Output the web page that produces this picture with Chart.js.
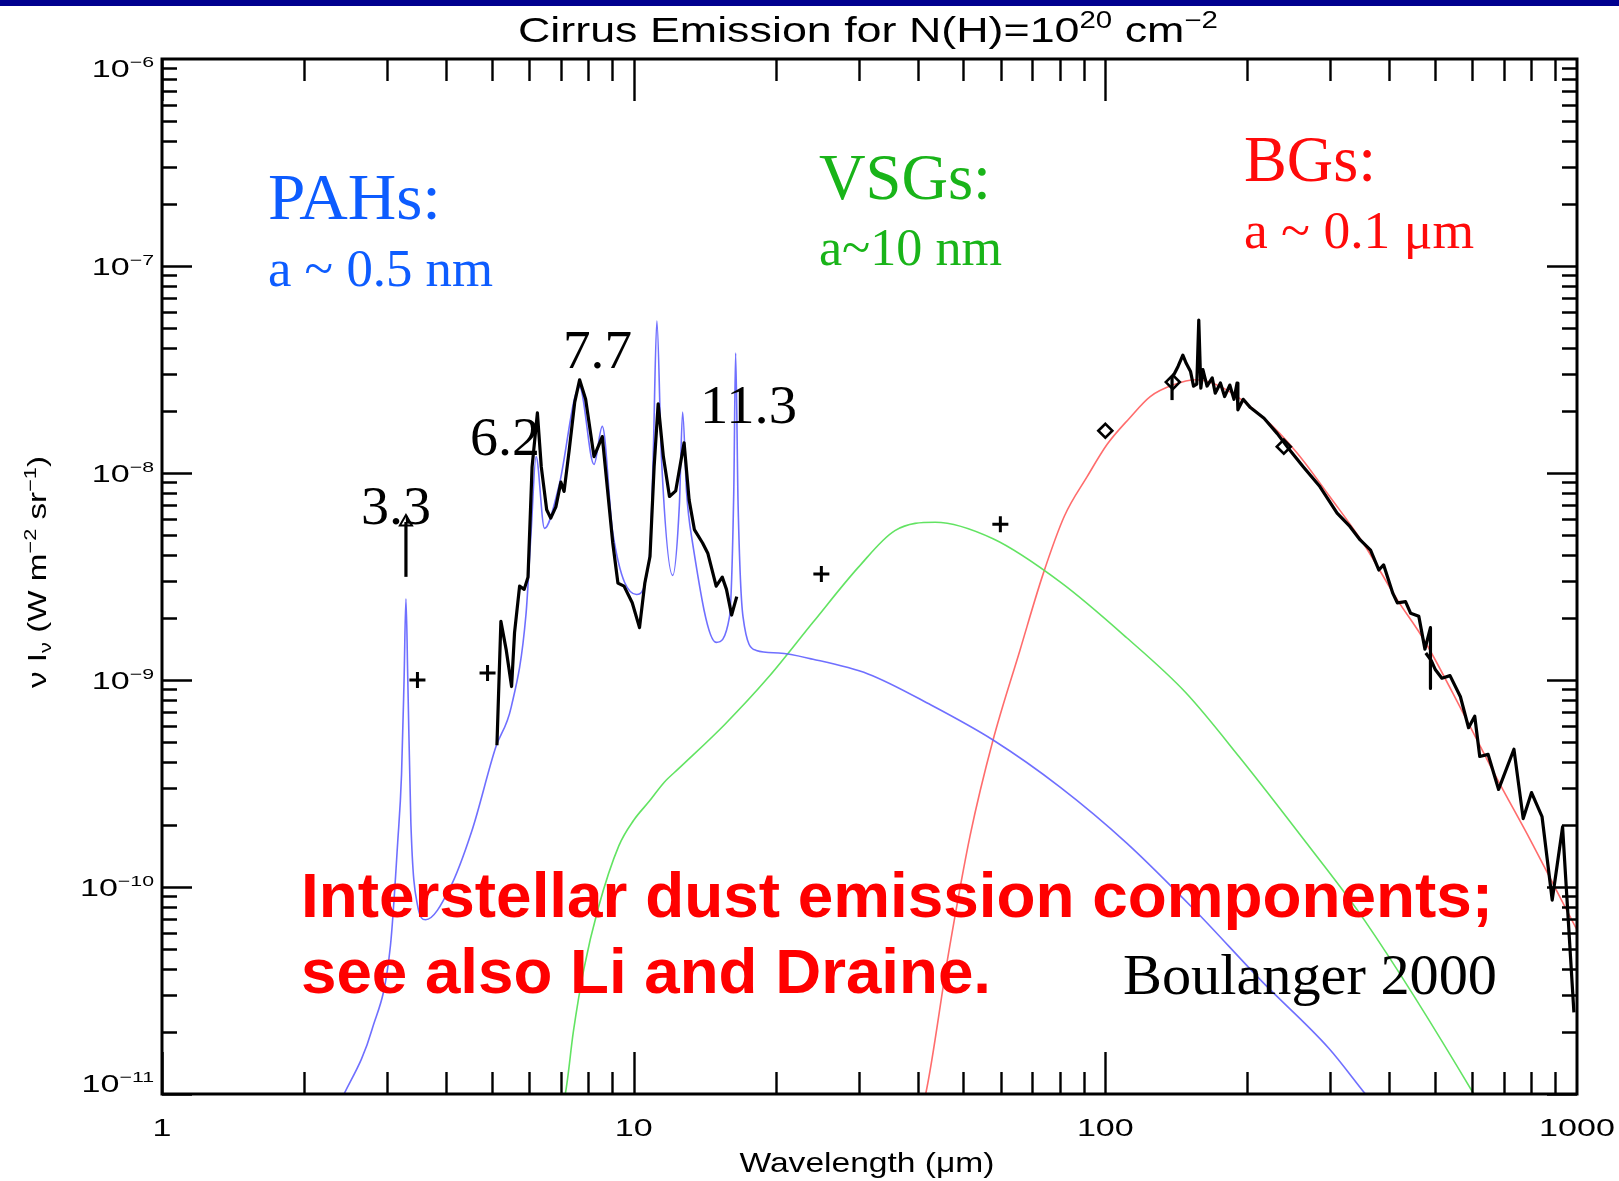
<!DOCTYPE html>
<html>
<head>
<meta charset="utf-8">
<script src="https://cdn.jsdelivr.net/npm/chart.js@4.4.1/dist/chart.umd.min.js"></script>
<style>
  html, body { margin: 0; padding: 0; background: #fff; }
  #chart { display: block; }
</style>
</head>
<body>
<canvas id="chart" width="1619" height="1181"></canvas>
<script>
// wavelength in micron, nu I_nu in W m-2 sr-1

// PAH model (blue)
const pahWave = [2.38, 2.79, 3.05, 3.16, 3.22, 3.26, 3.29, 3.32, 3.37, 3.48, 3.62, 4.07, 4.54, 5.10, 5.50, 5.91, 6.06, 6.21, 6.47, 6.94, 7.68, 8.24, 8.58, 9.03, 10.14, 10.82, 11.0, 11.2, 11.45, 12.1, 12.5, 12.7, 12.95, 13.3, 14.96, 15.97, 16.3, 16.45, 16.65, 17.05, 18.2, 20.3, 24.0, 31.4, 42.7, 57.8, 80.3, 111, 155, 215, 298, 356, 370];
const pahFlux = [9e-12, 2.06e-11, 5.2e-11, 1.64e-10, 3.5e-10, 1.0e-9, 2.47e-9, 1.0e-9, 2.05e-10, 8.2e-11, 6.95e-11, 9.8e-11, 1.87e-10, 4.73e-10, 7.4e-10, 2.06e-9, 5.15e-9, 1.2e-8, 5.4e-9, 8.6e-9, 2.6e-8, 1.1e-8, 1.68e-8, 5.15e-9, 2.59e-9, 4.1e-9, 1.2e-8, 5.42e-8, 1.2e-8, 3.2e-9, 7e-9, 1.97e-8, 8e-9, 4.75e-9, 1.52e-9, 2.03e-9, 8e-9, 3.8e-8, 7e-9, 2.03e-9, 1.39e-9, 1.35e-9, 1.26e-9, 1.07e-9, 7.57e-10, 5.13e-10, 3.03e-10, 1.63e-10, 7.7e-11, 3.49e-11, 1.66e-11, 1.0e-11, 9e-12];

// VSG model (green)
const vsgWave = [7.0, 7.16, 7.45, 7.84, 8.41, 9.30, 10.0, 10.8, 11.6, 12.5, 15.6, 19.3, 24.0, 30.0, 35.8, 43.6, 57.8, 80.3, 111, 148, 192, 267, 356, 604, 620];
const vsgFlux = [9e-12, 1e-11, 2e-11, 4e-11, 7.9e-11, 1.58e-10, 2.1e-10, 2.6e-10, 3.2e-10, 3.76e-10, 6.1e-10, 1.03e-9, 1.9e-9, 3.52e-9, 5.27e-9, 5.78e-9, 4.81e-9, 2.97e-9, 1.6e-9, 8.7e-10, 4.27e-10, 1.63e-10, 6.8e-11, 1e-11, 9e-12];

// BG model (red)
const bgWave = [41, 41.6, 46.5, 51.7, 57.8, 65.9, 73.7, 81.9, 91.5, 101, 112.5, 124.5, 139, 156, 178, 217, 255, 299, 352, 416, 474, 574, 678, 797, 891, 1000];
const bgFlux = [9e-12, 1e-11, 4.77e-11, 1.78e-10, 5.13e-10, 1.39e-9, 3.22e-9, 6.2e-9, 9.6e-9, 1.38e-8, 1.84e-8, 2.34e-8, 2.66e-8, 2.82e-8, 2.57e-8, 1.84e-8, 1.25e-8, 7.7e-9, 4.59e-9, 2.44e-9, 1.56e-9, 6.9e-10, 3.31e-10, 1.68e-10, 1.03e-10, 6.2e-11];

// ISOCAM CVF spectrum (black)
const cvfWave = [5.13, 5.23, 5.37, 5.51, 5.59, 5.73, 5.86, 5.97, 6.09, 6.25, 6.37, 6.54, 6.67, 6.84, 7.01, 7.12, 7.30, 7.5, 7.68, 7.91, 8.24, 8.58, 9.03, 9.26, 9.54, 9.93, 10.29, 10.56, 10.83, 11.05, 11.27, 11.56, 11.91, 12.28, 12.79, 13.11, 13.45, 14.0, 14.36, 14.96, 15.41, 15.73, 16.13, 16.54];
const cvfFlux = [4.84e-10, 1.92e-9, 1.39e-9, 9.3e-10, 1.69e-9, 2.84e-9, 2.74e-9, 3.14e-9, 1.07e-8, 1.95e-8, 1.07e-8, 6.64e-9, 6.05e-9, 6.86e-9, 9.03e-9, 8.15e-9, 1.29e-8, 2.2e-8, 2.82e-8, 2.27e-8, 1.2e-8, 1.5e-8, 4.59e-9, 2.94e-9, 2.84e-9, 2.36e-9, 1.79e-9, 2.94e-9, 3.95e-9, 1.07e-8, 2.16e-8, 1.2e-8, 7.7e-9, 8.2e-9, 1.4e-8, 7.4e-9, 5.33e-9, 4.59e-9, 4.1e-9, 2.84e-9, 3.14e-9, 2.74e-9, 2.06e-9, 2.53e-9];

// FIRAS spectrum, two pieces (black)
const firasWave1 = [139, 142.6, 146, 148.5, 151.6, 153.8, 156.3, 157.8, 159.4, 161, 164.3, 168.5, 171, 175.4, 179, 183.6, 187.4, 190.2, 191, 196, 203, 217, 231.5, 246, 263, 285, 310, 330, 347, 365, 380, 389, 407, 416, 433, 444, 462, 476, 489, 489];
const firasFlux1 = [2.92e-8, 3.27e-8, 3.71e-8, 3.38e-8, 3.09e-8, 2.63e-8, 2.69e-8, 5.48e-8, 2.57e-8, 3.16e-8, 2.63e-8, 2.88e-8, 2.43e-8, 2.72e-8, 2.34e-8, 2.66e-8, 2.27e-8, 2.72e-8, 2.02e-8, 2.27e-8, 2.07e-8, 1.84e-8, 1.55e-8, 1.29e-8, 1.07e-8, 8.6e-9, 6.4e-9, 5.52e-9, 4.75e-9, 4.24e-9, 3.4e-9, 3.6e-9, 2.62e-9, 2.36e-9, 2.39e-9, 2.1e-9, 2.03e-9, 1.41e-9, 1.79e-9, 9.1e-10];
const firasWave2 = [478, 491, 501, 517, 538, 566, 589, 607, 622, 648, 682, 735, 769, 801, 843, 886, 932, 985];
const firasFlux2 = [1.35e-9, 1.24e-9, 1.12e-9, 1.02e-9, 1.05e-9, 8.3e-10, 5.88e-10, 6.68e-10, 4.27e-10, 4.37e-10, 2.96e-10, 4.63e-10, 2.14e-10, 2.86e-10, 2.19e-10, 8.65e-11, 1.95e-10, 2.48e-11];

// 3.3 micron feature (black bar with triangle on top)
const band33Wave = [3.29, 3.29];
const band33Flux = [3.15e-9, 5.8e-9];

// DIRBE photometry (+) and diamonds
const crossWave = [3.48, 4.90, 25.0, 59.9];
const crossFlux = [1.0e-9, 1.08e-9, 3.25e-9, 5.65e-9];
const diamondWave = [100, 139, 239];
const diamondFlux = [1.6e-8, 2.75e-8, 1.34e-8];
const diamondErrWave = [138.5, 138.5];
const diamondErrFlux = [2.25e-8, 2.92e-8];

// axes
const xTicks = [1, 10, 100, 1000];
const xTickLabels = ["1", "10", "100", "1000"];
const yTicks = [1e-6, 1e-7, 1e-8, 1e-9, 1e-10, 1e-11];
const yTickExp = ["\u22126", "\u22127", "\u22128", "\u22129", "\u221210", "\u221211"];

const toPoints = (xs, ys) => xs.map((x, i) => ({ x, y: ys[i] }));

const blue = "#0d5cff";
const green = "#19b419";
const red = "#ff0a0a";
const sans = "'Liberation Sans', Arial, sans-serif";
const serif = "'Liberation Serif', 'Times New Roman', serif";

// draw a row of text pieces (superscripts etc.), optionally stretched to a width
function drawRich(ctx, parts, x, y, opts) {
  const family = opts.family || sans;
  let w = 0;
  parts.forEach((p) => {
    ctx.font = `${p.weight || "normal"} ${p.size}px ${family}`;
    p.w = ctx.measureText(p.t).width;
    w += p.w;
  });
  const sx = opts.width ? opts.width / w : opts.sx || 1;
  let start = 0;
  if (opts.align === "center") start = -w / 2;
  if (opts.align === "right") start = -w;
  ctx.save();
  ctx.translate(x, y);
  ctx.scale(sx, 1);
  ctx.fillStyle = opts.color || "#000";
  ctx.textAlign = "left";
  ctx.textBaseline = "alphabetic";
  let cx = start;
  parts.forEach((p) => {
    ctx.font = `${p.weight || "normal"} ${p.size}px ${family}`;
    ctx.fillText(p.t, cx, p.dy || 0);
    cx += p.w;
  });
  ctx.restore();
}

const notes = [
  { t: "PAHs:", x: 268, y: 219, w: 173, size: 66, color: blue },
  { t: "a ~ 0.5 nm", x: 268, y: 286, w: 225, size: 53, color: blue },
  { t: "VSGs:", x: 819, y: 199, w: 172, size: 65, color: green },
  { t: "a~10 nm", x: 819, y: 265, w: 183, size: 52, color: green },
  { t: "BGs:", x: 1244, y: 181, w: 132, size: 65, color: red },
  { t: "a ~ 0.1 \u03bcm", x: 1244, y: 248, w: 230, size: 53, color: red },
  { t: "3.3", x: 361, y: 524, w: 70, size: 55, color: "#000" },
  { t: "6.2", x: 470, y: 455, w: 70, size: 55, color: "#000" },
  { t: "7.7", x: 563, y: 368, w: 69, size: 55, color: "#000" },
  { t: "11.3", x: 700, y: 423, w: 97, size: 55, color: "#000" },
  { t: "Boulanger 2000", x: 1123, y: 994, w: 374, size: 57, color: "#000" },
];

const framePlugin = {
  id: "frame",
  beforeDraw(chart) {
    const ctx = chart.ctx;
    ctx.save();
    ctx.fillStyle = "#fff";
    ctx.fillRect(0, 0, chart.width, chart.height);
    ctx.fillStyle = "#00008f";
    ctx.fillRect(0, 0, chart.width, 6);
    ctx.restore();
  },
  afterDatasetsDraw(chart) {
    const { ctx, chartArea: a } = chart;
    const xs = chart.scales.x;
    const ys = chart.scales.y;
    ctx.save();
    ctx.strokeStyle = "#000";
    ctx.lineWidth = 2.4;
    ctx.beginPath();
    // x ticks, bottom and top
    for (let d = 1; d < 1000; d *= 10) {
      for (let m = 1; m <= 9; m++) {
        const px = Math.round(xs.getPixelForValue(d * m)) + 0.5;
        const len = m === 1 ? 42 : 22;
        ctx.moveTo(px, a.bottom);
        ctx.lineTo(px, a.bottom - len);
        ctx.moveTo(px, a.top);
        ctx.lineTo(px, a.top + len);
      }
    }
    // y ticks, left and right
    for (let d = 1e-11; d < 0.9e-6; d *= 10) {
      for (let m = 1; m <= 9; m++) {
        const py = Math.round(ys.getPixelForValue(d * m)) + 0.5;
        const len = m === 1 ? 30 : 15;
        ctx.moveTo(a.left, py);
        ctx.lineTo(a.left + len, py);
        ctx.moveTo(a.right, py);
        ctx.lineTo(a.right - len, py);
      }
    }
    ctx.stroke();
    ctx.lineWidth = 3;
    ctx.strokeRect(a.left, a.top, a.right - a.left, a.bottom - a.top);
    ctx.restore();
  },
  afterDraw(chart) {
    const { ctx, chartArea: a } = chart;
    const xs = chart.scales.x;
    const ys = chart.scales.y;

    // tick labels
    yTicks.forEach((v, i) => {
      const py = ys.getPixelForValue(v);
      let base = py + 8.5;
      if (i === 0) base = py + 18;
      if (i === yTicks.length - 1) base = py - 2;
      drawRich(ctx, [
        { t: "10", size: 24 },
        { t: yTickExp[i], size: 15, dy: -10 },
      ], a.left - 8, base, { align: "right", sx: 1.42 });
    });
    xTicks.forEach((v, i) => {
      const px = xs.getPixelForValue(v);
      drawRich(ctx, [{ t: xTickLabels[i], size: 24 }], px, 1136, { align: "center", sx: 1.42 });
    });

    // title and axis titles
    drawRich(ctx, [
      { t: "Cirrus Emission for N(H)=10", size: 35 },
      { t: "20", size: 23, dy: -14 },
      { t: " cm", size: 35 },
      { t: "\u22122", size: 23, dy: -14 },
    ], 868, 42, { align: "center", width: 700 });
    drawRich(ctx, [{ t: "Wavelength (\u03bcm)", size: 28 }], 867, 1172, { align: "center", width: 255 });
    ctx.save();
    ctx.translate(46, 572);
    ctx.rotate(-Math.PI / 2);
    drawRich(ctx, [
      { t: "\u03bd I", size: 26 },
      { t: "\u03bd", size: 17, dy: 5 },
      { t: " (W m", size: 26 },
      { t: "\u22122", size: 17, dy: -10 },
      { t: " sr", size: 26 },
      { t: "\u22121", size: 17, dy: -10 },
      { t: ")", size: 26 },
    ], 0, 0, { align: "center", width: 232 });
    ctx.restore();

    // annotations
    notes.forEach((n) => {
      drawRich(ctx, [{ t: n.t, size: n.size }], n.x, n.y, { family: serif, color: n.color, width: n.w });
    });
    drawRich(ctx, [{ t: "Interstellar dust emission components;", size: 63, weight: "bold" }], 301, 917, { color: "#ff0000", width: 1192 });
    drawRich(ctx, [{ t: "see also Li and Draine.", size: 63, weight: "bold" }], 301, 993, { color: "#ff0000", width: 690 });
  },
};

const modelLine = (data, color) => ({
  data,
  borderColor: color,
  borderWidth: 1.6,
  pointRadius: 0,
  showLine: true,
  cubicInterpolationMode: "monotone",
  order: 3,
});
const obsLine = (data) => ({
  data,
  borderColor: "#000",
  borderWidth: 3.2,
  pointRadius: 0,
  showLine: true,
  tension: 0,
  borderJoinStyle: "round",
  order: 1,
});

new Chart(document.getElementById("chart"), {
  type: "scatter",
  data: {
    datasets: [
      obsLine(toPoints(cvfWave, cvfFlux)),
      obsLine(toPoints(firasWave1, firasFlux1)),
      obsLine(toPoints(firasWave2, firasFlux2)),
      obsLine(toPoints(band33Wave, band33Flux)),
      obsLine(toPoints(diamondErrWave, diamondErrFlux)),
      {
        data: [{ x: band33Wave[1], y: band33Flux[1] }],
        pointStyle: "triangle",
        pointRadius: 7,
        borderColor: "#000",
        borderWidth: 2,
        backgroundColor: "rgba(0,0,0,0)",
        order: 0,
      },
      {
        data: toPoints(crossWave, crossFlux),
        pointStyle: "cross",
        pointRadius: 8,
        borderColor: "#000",
        borderWidth: 3,
        order: 0,
      },
      {
        data: toPoints(diamondWave, diamondFlux),
        pointStyle: "rectRot",
        pointRadius: 7,
        borderColor: "#000",
        borderWidth: 2.6,
        backgroundColor: "rgba(0,0,0,0)",
        order: 0,
      },
      modelLine(toPoints(pahWave, pahFlux), "rgba(95,95,255,0.9)"),
      modelLine(toPoints(vsgWave, vsgFlux), "rgba(90,225,90,0.95)"),
      modelLine(toPoints(bgWave, bgFlux), "rgba(255,100,100,0.95)"),
    ],
  },
  options: {
    responsive: false,
    animation: false,
    devicePixelRatio: 1,
    layout: { padding: { left: 162, right: 42, top: 59, bottom: 87 } },
    plugins: { legend: { display: false }, tooltip: { enabled: false }, title: { display: false } },
    events: [],
    scales: {
      x: { type: "logarithmic", min: 1, max: 1000, display: false },
      y: { type: "logarithmic", min: 1e-11, max: 1e-6, display: false },
    },
  },
  plugins: [framePlugin],
});
</script>
</body>
</html>
